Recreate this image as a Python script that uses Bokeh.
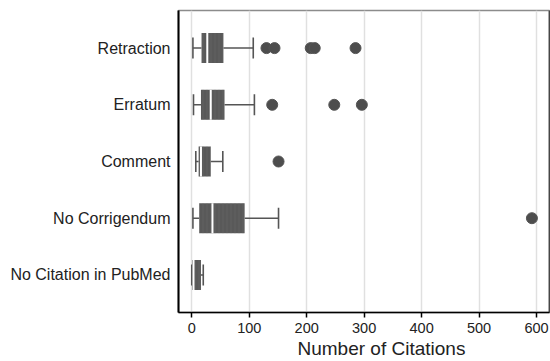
from bokeh.plotting import figure
from bokeh.models import FactorRange, Range1d, FixedTicker, Span, Title
from bokeh.embed import file_html
from bokeh.resources import INLINE

categories = ["Retraction", "Erratum", "Comment", "No Corrigendum", "No Citation in PubMed"]
whisker_low = [2, 3, 7, 2, 0]
q1 = [17, 16, 12, 13, 0.5]
median = [27, 33, 16, 36, 3]
q3 = [55, 57, 33, 92, 16]
whisker_high = [107, 109, 54, 151, 20]
outlier_cat = ["Retraction"] * 5 + ["Erratum"] * 3 + ["Comment"] + ["No Corrigendum"]
outlier_val = [130, 144, 207, 214, 285, 140, 248, 296, 151, 592]
x_ticks = [0, 100, 200, 300, 400, 500, 600]
x_start, x_end = -23.1, 622.6

FONT = "Liberation Sans"
BOX = "#595959"
LINE = "#555555"

p = figure(width=550, height=361, output_backend="svg", toolbar_location=None, title=None,
           y_range=FactorRange(factors=list(reversed(categories)), range_padding=0.163,
                               range_padding_units="absolute"),
           x_range=Range1d(x_start, x_end),
           min_border_left=178, min_border_top=10, min_border_right=1, min_border_bottom=49)

# whiskers
p.segment(x0=whisker_low, y0=categories, x1=q1, y1=categories, line_color=LINE, line_width=1.5)
p.segment(x0=q3, y0=categories, x1=whisker_high, y1=categories, line_color=LINE, line_width=1.5)
p.rect(x=whisker_low, y=categories, width=1.6, width_units="screen", height=0.37,
       fill_color=LINE, line_color=None)
p.rect(x=whisker_high, y=categories, width=1.6, width_units="screen", height=0.37,
       fill_color=LINE, line_color=None)
# boxes
p.hbar(y=categories, left=q1, right=q3, height=0.53, fill_color=BOX, line_color=None,
       hatch_pattern="vertical_line", hatch_color="#686868", hatch_scale=4, hatch_weight=1, hatch_alpha=0.45)
# medians
p.rect(x=median, y=categories, width=2, width_units="screen", height=0.53,
       fill_color="white", line_color=None)
# outliers
p.scatter(x=outlier_val, y=outlier_cat, size=11, fill_color="#4d4d4d", line_color="#555555")

p.outline_line_color = "#8c8c8c"
p.outline_line_width = 1.5
p.add_layout(Span(location=x_end, dimension="height", line_color="black", line_width=1.5))
p.ygrid.grid_line_color = None
p.xgrid.grid_line_color = "#e0e0e0"
p.xgrid.grid_line_width = 1.5
p.xaxis.ticker = FixedTicker(ticks=x_ticks)
p.xaxis.major_label_text_font = FONT
p.xaxis.major_label_text_font_size = "14.5px"
p.xaxis.major_label_text_color = "#222222"
p.xaxis.major_label_standoff = 5
p.xaxis.major_tick_out = 5
p.xaxis.major_tick_in = 0
p.xaxis.minor_tick_line_color = None
p.xaxis.axis_line_color = "black"
p.xaxis.axis_line_width = 1.5
p.xaxis.major_tick_line_color = "black"
p.xaxis.major_tick_line_width = 1.5

p.yaxis.major_label_text_font = FONT
p.yaxis.major_label_text_font_size = "16px"
p.yaxis.major_label_text_color = "#222222"
p.yaxis.major_tick_line_color = None
p.yaxis.major_tick_out = 0
p.yaxis.major_label_standoff = 8
p.yaxis.axis_line_color = "black"
p.yaxis.axis_line_width = 2

xlabel = Title(text="Number of Citations", align="left", offset=119, standoff=1,
               text_font=FONT, text_font_style="normal", text_font_size="19px",
               text_color="#222222")
p.add_layout(xlabel, "below")

open("out.html", "w").write(file_html(p, INLINE))
